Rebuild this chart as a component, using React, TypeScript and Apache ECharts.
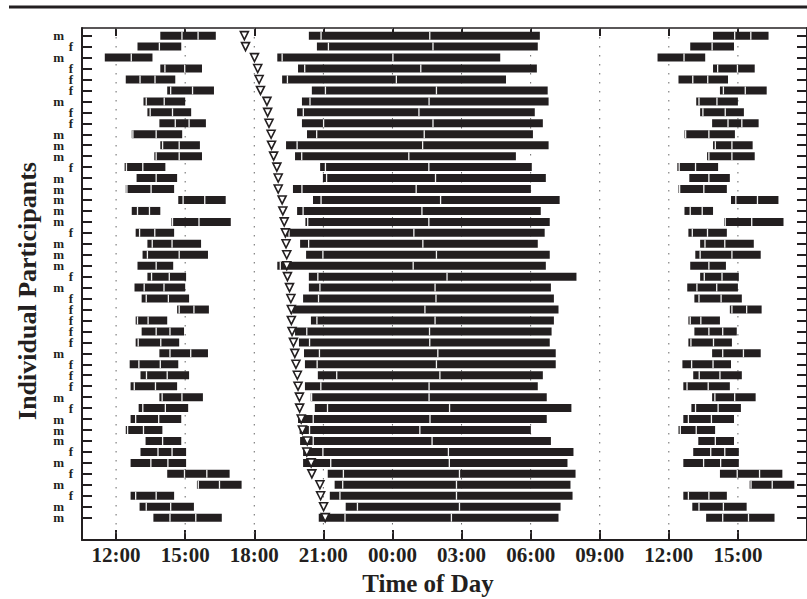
import React, { useEffect, useRef } from "react";
import * as echarts from "echarts";

// Sex of each participant, top to bottom
const sexes = ["m","f","m","f","f","f","m","f","f","m","m","m","f","m","m","m","m","m","f","m","m","m","f","m","f","f","f","f","f","m","f","f","f","m","f","m","m","m","f","m","f","m","f","m","m"];

// Afternoon block per participant: [start, inner boundaries..., end] in clock hours
const napBounds = [
  [13.92,14.86,15.56,16.33],[12.93,13.88,14.83],[11.51,12.66,13.58],[13.92,14.12,14.98,15.73],
  [12.42,13.04,13.69,14.57],[14.22,14.37,15.32,16.25],[13.19,13.31,14.09,15.0],[13.36,13.48,14.45,15.26],
  [13.88,14.57,15.17,15.9],[12.68,12.73,13.74,14.87],[13.92,14.02,14.74,15.64],[13.66,13.74,14.74,15.73],
  [12.37,12.45,13.16,14.14],[12.89,13.74,14.65],[12.42,12.47,13.52,14.52],[14.7,14.91,15.85,16.76],
  [12.68,12.93,13.45,13.92],[14.4,14.45,15.6,16.98],[12.85,13.02,13.68,14.52],[13.36,13.57,14.43,15.69],
  [13.15,13.36,14.74,15.99],[12.93,13.74,14.48],[13.36,13.54,14.31,15.04],[12.8,13.22,14.08,15.0],
  [13.11,13.31,14.27,15.17],[14.65,14.74,15.38,16.03],[12.85,12.93,13.39,14.22],[13.11,13.74,14.34,14.95],
  [12.85,12.96,13.94,14.74],[13.88,14.34,15.24,15.99],[12.59,12.99,13.92,14.7],[13.06,13.32,14.22,15.17],
  [12.63,12.79,13.71,14.65],[13.88,14.0,14.86,15.77],[12.98,13.16,14.14,15.13],[12.63,12.85,13.85,14.83],
  [12.42,12.5,13.19,14.01],[13.28,14.02,14.83],[13.06,13.82,14.43,15.04],[12.63,13.51,14.25,15.04],
  [14.22,14.97,15.94,16.93],[15.51,15.57,16.49,17.45],[12.63,12.85,13.74,14.52],[13.02,13.31,14.37,15.38],
  [13.62,14.34,15.46,16.59]
];

// Night block per participant: [start, boundary, boundary, end] in hours (past midnight = +24)
const nightBounds = [
  [20.37,20.9,25.62,30.4],[20.72,21.22,25.76,30.31],[19.0,19.21,24.02,28.68],[19.9,20.19,25.23,30.27],
  [19.21,19.44,24.17,28.93],[20.5,21.09,25.91,30.74],[20.07,20.42,25.59,30.78],[19.86,20.13,25.15,30.18],
  [20.07,21.01,25.76,30.53],[20.29,20.71,25.38,30.1],[19.38,19.86,25.31,30.78],[19.77,20.06,24.71,29.36],
  [20.86,21.09,25.58,30.05],[20.98,21.14,25.87,30.66],[19.68,20.07,25.03,30.01],[20.55,20.9,26.09,31.26],
  [19.86,20.12,25.28,30.44],[20.22,20.32,25.58,30.83],[19.4,19.51,24.93,30.61],[19.99,20.36,25.32,30.31],
  [20.25,20.98,25.91,30.83],[19.0,19.13,24.9,30.66],[20.37,20.76,26.37,31.99],[20.37,20.85,25.85,30.88],
  [20.12,20.79,25.89,31.01],[19.56,19.64,25.41,31.21],[20.46,20.72,25.85,31.01],[19.77,20.28,25.61,30.91],
  [19.94,20.4,25.62,30.83],[20.16,20.83,25.97,31.09],[20.2,20.73,25.91,31.09],[20.76,21.58,26.06,30.53],
  [20.2,20.89,25.59,30.31],[20.45,20.49,25.59,30.7],[20.63,21.18,26.48,31.77],[19.9,20.56,25.63,30.7],
  [19.97,20.4,25.19,30.01],[19.99,20.56,25.72,30.88],[20.12,20.98,26.43,31.86],[20.12,21.32,26.47,31.6],
  [21.19,21.87,26.91,31.95],[21.49,21.84,26.78,31.73],[21.28,21.72,26.78,31.82],[21.97,22.48,26.91,31.3],
  [20.8,21.94,26.56,31.21]
];

// Triangle marker times (clock hours)
const markerTimes = [17.57,17.62,18.01,18.15,18.21,18.27,18.55,18.58,18.64,18.73,18.75,18.84,18.98,19.04,19.04,19.21,19.24,19.3,19.35,19.38,19.41,19.41,19.44,19.53,19.59,19.61,19.61,19.64,19.7,19.76,19.81,19.87,19.9,19.96,19.97,20.04,20.09,20.3,20.28,20.47,20.5,20.85,20.88,21.01,21.08];

const tickHours = [12, 15, 18, 21, 24, 27, 30, 33, 36, 39, 42];
const labelHours = [12, 15, 18, 21, 24, 27, 30, 33, 36, 39];
const gridHours = [12, 15, 18, 21, 24, 27, 30, 33, 36, 39];

const X_MIN = 10.52;
const X_MAX = 42;
const Y_MIN = 0.3;
const Y_MAX = 47.04;
const INK = "#231f20";
const SERIF = '"Liberation Serif", "Times New Roman", Times, serif';

export default function App() {
  const ref = useRef<HTMLDivElement>(null);
  useEffect(() => {
    if (!ref.current) return;
    const chart = echarts.init(ref.current, undefined, { renderer: "svg" });
    const rows = sexes.map((_, i) => i + 1);

    const blocks: number[][] = [];
    const seps: number[][] = [];
    sexes.forEach((_, i) => {
      const row = i + 1;
      const nb = napBounds[i];
      const last = nb.length - 1;
      blocks.push([row, nb[0], nb[last]]);
      blocks.push([row, nb[0] + 24, nb[last] + 24]);
      for (let j = 1; j < last; j++) {
        seps.push([row, nb[j]]);
        seps.push([row, nb[j] + 24]);
      }
      const ng = nightBounds[i];
      const nl = ng.length - 1;
      blocks.push([row, ng[0], ng[nl]]);
      for (let j = 1; j < nl; j++) seps.push([row, ng[j]]);
    });

    const fmtHour = (v: number) => {
      const h = ((Math.round(v) % 24) + 24) % 24;
      return (h < 10 ? "0" : "") + h + ":00";
    };

    const option: any = {
      animation: false,
      backgroundColor: "#ffffff",
      grid: { left: 82, top: 28, width: 732, height: 512, containLabel: false },
      xAxis: [
        {
          type: "value", position: "bottom", min: X_MIN, max: X_MAX,
          axisLine: { onZero: false, lineStyle: { color: INK, width: 2 } },
          axisTick: { inside: true, length: 10, customValues: tickHours, lineStyle: { color: INK, width: 2 } },
          axisLabel: {
            customValues: labelHours, formatter: fmtHour, margin: 4,
            fontFamily: SERIF, fontWeight: "bold", fontSize: 21, color: INK,
          },
          splitLine: { show: false },
        },
        {
          type: "value", position: "top", min: X_MIN, max: X_MAX,
          axisLine: { onZero: false, lineStyle: { color: INK, width: 1.5 } },
          axisTick: { inside: true, length: 8, customValues: tickHours, lineStyle: { color: INK, width: 2 } },
          axisLabel: { show: false },
          splitLine: { show: false },
        },
      ],
      yAxis: [
        {
          type: "value", inverse: true, position: "left", min: Y_MIN, max: Y_MAX,
          axisLine: { onZero: false, lineStyle: { color: INK, width: 2 } },
          axisTick: { inside: true, length: 10, customValues: rows, lineStyle: { color: INK, width: 2 } },
          axisLabel: { show: false },
          splitLine: { show: false },
        },
        {
          type: "value", inverse: true, position: "right", min: Y_MIN, max: Y_MAX,
          axisLine: { onZero: false, lineStyle: { color: INK, width: 2 } },
          axisTick: { inside: true, length: 10, customValues: rows, lineStyle: { color: INK, width: 2 } },
          axisLabel: { show: false },
          splitLine: { show: false },
        },
      ],
      graphic: [
        { type: "line", shape: { x1: 9, y1: 7, x2: 807, y2: 7 }, style: { stroke: INK, lineWidth: 3 } },
        {
          type: "text", x: 27, y: 291, rotation: Math.PI / 2,
          style: {
            text: "Individual Participants", fontFamily: SERIF, fontWeight: "bold", fontSize: 26,
            fill: INK, textAlign: "center", textVerticalAlign: "middle",
          },
        },
        {
          type: "text", x: 428, y: 583,
          style: {
            text: "Time of Day", fontFamily: SERIF, fontWeight: "bold", fontSize: 25,
            fill: INK, textAlign: "center", textVerticalAlign: "middle",
          },
        },
      ],
      series: [
        {
          type: "custom", name: "grid", xAxisIndex: 0, yAxisIndex: 0, z: 1, silent: true,
          data: gridHours.map((h) => [h, 1]),
          encode: { x: 0, y: 1 },
          renderItem: (params: any, api: any) => {
            const x = api.coord([api.value(0), 1])[0];
            const cs = params.coordSys;
            return {
              type: "line",
              shape: { x1: x, y1: cs.y, x2: x, y2: cs.y + cs.height },
              style: { stroke: "#666", lineWidth: 1, lineDash: [1.5, 7.5] },
            };
          },
        },
        {
          type: "custom", name: "sex", xAxisIndex: 0, yAxisIndex: 0, z: 5, silent: true,
          data: rows.map((r) => [X_MIN, r]),
          encode: { x: 0, y: 1 },
          renderItem: (params: any, api: any) => {
            const p = api.coord([X_MIN, api.value(1)]);
            const s = sexes[params.dataIndex];
            return {
              type: "text",
              x: p[0] - (s === "m" ? 18 : 9),
              y: p[1],
              style: {
                text: s, fontFamily: SERIF, fontWeight: "bold", fontSize: 13, fill: INK,
                align: "right", verticalAlign: "middle", textAlign: "right", textVerticalAlign: "middle",
              },
            };
          },
        },
        {
          type: "custom", name: "sleep", xAxisIndex: 0, yAxisIndex: 0, z: 2, silent: true,
          data: blocks,
          encode: { x: [1, 2], y: 0 },
          renderItem: (params: any, api: any) => {
            const row = api.value(0);
            const p1 = api.coord([api.value(1), row]);
            const p2 = api.coord([api.value(2), row]);
            const h = api.size([0, 1])[1] * 0.73;
            return {
              type: "rect",
              shape: { x: p1[0], y: p1[1] - h / 2, width: p2[0] - p1[0], height: h },
              style: { fill: INK },
            };
          },
        },
        {
          type: "custom", name: "boundaries", xAxisIndex: 0, yAxisIndex: 0, z: 3, silent: true,
          data: seps,
          encode: { x: 1, y: 0 },
          renderItem: (params: any, api: any) => {
            const row = api.value(0);
            const p = api.coord([api.value(1), row]);
            const h = api.size([0, 1])[1] * 0.73;
            return {
              type: "rect",
              shape: { x: p[0] - 0.65, y: p[1] - h / 2, width: 1.3, height: h },
              style: { fill: "#f2f2f2" },
            };
          },
        },
        {
          type: "scatter", name: "marker", xAxisIndex: 0, yAxisIndex: 0, z: 4, silent: true,
          data: markerTimes.map((t, i) => [t, i + 1]),
          symbol: "triangle", symbolRotate: 180, symbolSize: [8, 8],
          itemStyle: { color: "#ffffff", borderColor: INK, borderWidth: 1.6, opacity: 1 },
        },
      ],
    };
    chart.setOption(option);
    return () => chart.dispose();
  }, []);
  return (
    <div
      ref={ref}
      style={{ position: "absolute", left: 0, top: 0, width: 807, height: 599, background: "#fff" }}
    />
  );
}
